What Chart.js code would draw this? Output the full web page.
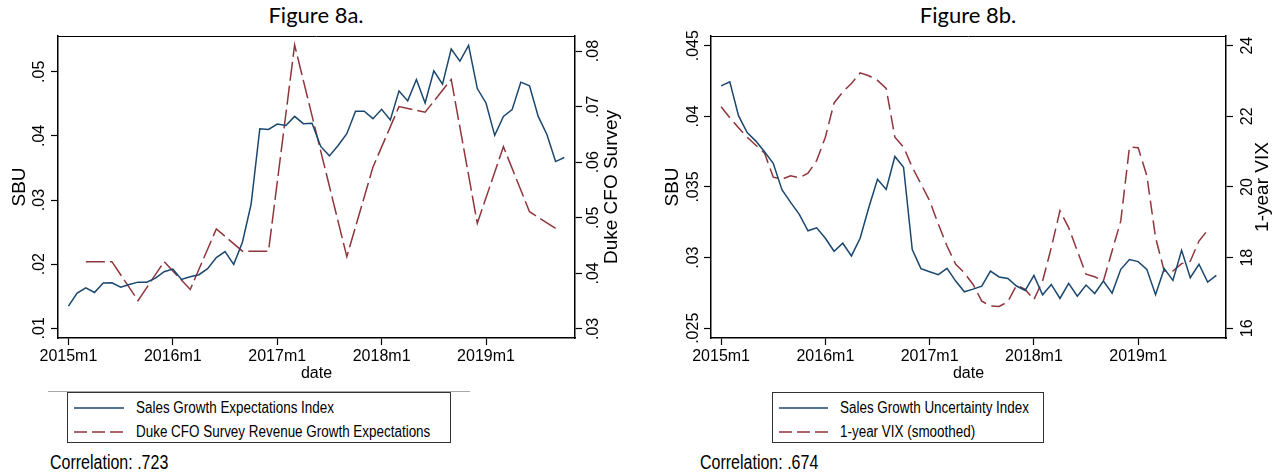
<!DOCTYPE html>
<html>
<head>
<meta charset="utf-8">
<script src="https://cdn.jsdelivr.net/npm/chart.js@4.4.1/dist/chart.umd.min.js"></script>
<style>
  body { margin: 0; width: 1283px; height: 474px; background: #fff; position: relative; overflow: hidden;
         font-family: "Liberation Sans", Arial, sans-serif; color: #000; }
  canvas { position: absolute; top: 0; }
  .title { position: absolute; top: 4px; width: 300px; text-align: center; font-family: Lato, sans-serif;
           font-size: 22px; line-height: 22px; }
  .legend { position: absolute; top: 392px; height: 51px; border: 1px solid #333; box-sizing: border-box; }
  .legend svg { position: absolute; left: 0; top: 0; }
  .row { position: absolute; font-size: 16px; line-height: 16px; white-space: nowrap;
         transform: scaleX(0.84); transform-origin: left center; }
  .corr { position: absolute; top: 452px; font-size: 20px; line-height: 20px; white-space: nowrap;
          transform: scaleX(0.8); transform-origin: left center; }
  .rule { position: absolute; top: 391px; left: 48px; width: 422px; height: 1px; background: #a8a8a8; }
</style>
</head>
<body>
<div class="title" style="left:166px">Figure 8a.</div>
<div class="title" style="left:818px">Figure 8b.</div>
<canvas id="chartA" width="640" height="385" style="left:0;width:640px;height:385px"></canvas>
<canvas id="chartB" width="643" height="385" style="left:640px;width:643px;height:385px"></canvas>

<div class="rule"></div>
<div class="legend" style="left:67px;width:384px">
  <svg width="70" height="50"><line x1="6" y1="15" x2="56" y2="15" stroke="#1a476f" stroke-width="1.5"/>
    <line x1="6" y1="39" x2="56" y2="39" stroke="#90353b" stroke-width="1.5" stroke-dasharray="13 5"/></svg>
  <div class="row" style="left:68px;top:7px">Sales Growth Expectations Index</div>
  <div class="row" style="left:68px;top:31px">Duke CFO Survey Revenue Growth Expectations</div>
</div>
<div class="legend" style="left:772px;width:272px">
  <svg width="70" height="50"><line x1="6" y1="15" x2="55" y2="15" stroke="#1a476f" stroke-width="1.5"/>
    <line x1="6" y1="39" x2="55" y2="39" stroke="#90353b" stroke-width="1.5" stroke-dasharray="13 5"/></svg>
  <div class="row" style="left:67px;top:7px">Sales Growth Uncertainty Index</div>
  <div class="row" style="left:67px;top:31px">1-year VIX (smoothed)</div>
</div>
<div class="corr" style="left:50px">Correlation: .723</div>
<div class="corr" style="left:700px">Correlation: .674</div>

<script>
// monthly dates shared by both figures
const dates = [
  "2015m1","2015m2","2015m3","2015m4","2015m5","2015m6","2015m7","2015m8","2015m9","2015m10","2015m11","2015m12",
  "2016m1","2016m2","2016m3","2016m4","2016m5","2016m6","2016m7","2016m8","2016m9","2016m10","2016m11","2016m12",
  "2017m1","2017m2","2017m3","2017m4","2017m5","2017m6","2017m7","2017m8","2017m9","2017m10","2017m11","2017m12",
  "2018m1","2018m2","2018m3","2018m4","2018m5","2018m6","2018m7","2018m8","2018m9","2018m10","2018m11","2018m12",
  "2019m1","2019m2","2019m3","2019m4","2019m5","2019m6","2019m7","2019m8","2019m9","2019m10"
];
const xTickLabels = ["2015m1","2016m1","2017m1","2018m1","2019m1"];

// Figure 8a
const sgeIndex = [
  .01345,.01548,.01632,.01559,.01705,.0171,.01642,.01684,.0172,.0172,.01783,.01883,
  .01924,.01762,.01804,.01836,.0193,.02102,.02196,.01997,.02342,.02937,.04112,.04102,
  .04185,.04164,.04305,.04191,.04196,.03836,.03689,.03851,.04034,.04384,.04384,.04269,
  .04415,.04248,.04702,.04546,.0488,.04514,.05016,.04807,.05355,.05167,.05413,.04739,
  .04514,.04008,.04305,.0441,.04838,.04781,.04305,.04023,.036,.03663
];
const cfoDates = ["2015m3","2015m6","2015m9","2015m12","2016m3","2016m6","2016m9","2016m12",
  "2017m3","2017m6","2017m9","2017m12","2018m3","2018m6","2018m9","2018m12","2019m3","2019m6","2019m9"];
const cfoValues = [.0421,.0421,.0351,.0421,.0371,.0480,.0440,.0440,
  .0811,.0620,.0430,.0591,.0700,.0690,.0749,.0490,.0628,.0511,.0481];
const sbuTicksA = [.01,.02,.03,.04,.05];
const cfoTicks = [.03,.04,.05,.06,.07,.08];

// Figure 8b
const sguIndex = [
  .04216,.04244,.04005,.03886,.03825,.03749,.03668,.03481,.03391,.03306,.0319,.03211,
  .03137,.03045,.03102,.03012,.03137,.03355,.03554,.03483,.03716,.0364,.03057,.02922,
  .029,.02879,.02924,.02834,.02758,.02777,.02798,.02905,.02863,.02853,.02799,.02768,
  .02874,.02737,.0281,.02711,.02818,.02727,.02806,.02746,.02834,.02749,.02917,.02986,
  .02972,.02917,.02737,.02922,.02839,.03052,.02858,.02953,.02827,.02874
];
const vixDates = dates.slice(0, 57);
const vixValues = [
  22.27,21.96,21.68,21.41,21.18,20.96,20.28,20.22,20.32,20.26,20.39,20.75,
  21.41,22.38,22.69,22.93,23.23,23.15,23.02,22.79,21.41,21.13,20.56,20.09,
  19.61,18.95,18.33,17.81,17.57,17.24,16.77,16.63,16.62,16.75,17.22,17.10,
  16.81,17.34,18.28,19.33,18.85,18.19,17.53,17.46,17.34,18.19,19.04,21.13,
  21.11,20.32,18.57,17.62,17.62,17.83,17.90,18.47,18.78
];
const sbuTicksB = [.025,.03,.035,.04,.045];
const vixTicks = [16,18,20,22,24];

const navy = "#1a476f", maroon = "#90353b";
const tickFont = '16px "Liberation Sans", Arial, sans-serif';
const titleFont = '19px "Liberation Sans", Arial, sans-serif';

function pts(ds, vals) {
  return ds.map((d, i) => ({ x: dates.indexOf(d), y: vals[i] }));
}
function dotFmt(v) {
  return String(+v.toFixed(3)).replace(/^0/, "");
}

// Stata-style rotated y labels, axis titles and frame
const stataAxes = {
  id: "stataAxes",
  afterDraw(chart, args, o) {
    const c = chart.ctx, a = chart.chartArea;
    c.save();
    c.strokeStyle = "#000";
    c.lineWidth = 1;
    c.beginPath();
    c.moveTo(a.left, a.top + 0.5);
    c.lineTo(a.right, a.top + 0.5);
    c.stroke();
    c.fillStyle = "#000";
    c.textAlign = "center";
    c.textBaseline = "alphabetic";
    const mid = (a.top + a.bottom) / 2;
    for (const id of ["y", "y1"]) {
      const s = chart.scales[id], p = o[id];
      c.font = tickFont;
      s.ticks.forEach(t => {
        c.save();
        c.translate(p.labelX, s.getPixelForValue(t.value));
        c.rotate(-Math.PI / 2);
        c.fillText(p.fmt(t.value), 0, 0);
        c.restore();
      });
      c.font = titleFont;
      c.save();
      c.translate(p.titleX, mid);
      c.rotate(-Math.PI / 2);
      c.fillText(p.title, 0, 0);
      c.restore();
    }
    c.font = tickFont;
    c.textBaseline = "middle";
    c.fillText("date", (a.left + a.right) / 2, o.xTitleY);
    c.restore();
  }
};

function makeChart(el, datasets, cfg) {
  const axisBorder = { display: true, color: "#000", width: 1.5 };
  const grid = { drawOnChartArea: false, drawTicks: true, tickLength: 7, tickColor: "#000", tickWidth: 1.2 };
  return new Chart(document.getElementById(el), {
    type: "line",
    data: { datasets },
    plugins: [stataAxes],
    options: {
      responsive: false,
      animation: false,
      parsing: true,
      layout: { padding: { top: 36, left: 0, right: 0, bottom: 0 } },
      elements: { point: { radius: 0 }, line: { tension: 0, borderWidth: 1.5 } },
      plugins: {
        legend: { display: false },
        tooltip: { enabled: false },
        stataAxes: cfg.axes
      },
      scales: {
        x: {
          type: "linear", min: cfg.xMin, max: cfg.xMax,
          border: axisBorder, grid,
          afterBuildTicks: s => { s.ticks = xTickLabels.map(d => ({ value: dates.indexOf(d) })); },
          afterFit: s => { s.height = 47; },
          ticks: { font: { family: '"Liberation Sans", Arial, sans-serif', size: 16 }, color: "#000", padding: 2,
                   maxRotation: 0, callback: v => dates[v] }
        },
        y: {
          position: "left", min: cfg.yMin, max: cfg.yMax,
          border: axisBorder, grid,
          afterBuildTicks: s => { s.ticks = cfg.yTicks.map(v => ({ value: v })); },
          afterFit: s => { s.width = cfg.yWidth; },
          ticks: { display: false }
        },
        y1: {
          position: "right", min: cfg.y1Min, max: cfg.y1Max,
          border: axisBorder, grid,
          afterBuildTicks: s => { s.ticks = cfg.y1Ticks.map(v => ({ value: v })); },
          afterFit: s => { s.width = cfg.y1Width; },
          ticks: { display: false }
        }
      }
    }
  });
}

makeChart("chartA", [
  { data: pts(dates, sgeIndex), borderColor: navy, yAxisID: "y" },
  { data: pts(cfoDates, cfoValues), borderColor: maroon, borderDash: [19, 5], yAxisID: "y1" }
], {
  xMin: -1.2, xMax: 58.23,
  yMin: .00849, yMax: .05558, yTicks: sbuTicksA, yWidth: 58,
  y1Min: .02837, y1Max: .08271, y1Ticks: cfoTicks, y1Width: 65,
  axes: {
    y: { labelX: 44, titleX: 25, title: "SBU", fmt: dotFmt },
    y1: { labelX: 598, titleX: 617, title: "Duke CFO Survey", fmt: dotFmt },
    xTitleY: 374
  }
});

makeChart("chartB", [
  { data: pts(dates, sguIndex), borderColor: navy, yAxisID: "y" },
  { data: pts(vixDates, vixValues), borderColor: maroon, borderDash: [14, 6], yAxisID: "y1" }
], {
  xMin: -1.163, xMax: 58.11,
  yMin: .02431, yMax: .04569, yTicks: sbuTicksB, yWidth: 71,
  y1Min: 15.725, y1Max: 24.275, y1Ticks: vixTicks, y1Width: 57,
  axes: {
    y: { labelX: 58, titleX: 38, title: "SBU", fmt: dotFmt },
    y1: { labelX: 612, titleX: 628, title: "1-year VIX", fmt: v => String(v) },
    xTitleY: 374
  }
});
</script>
</body>
</html>
